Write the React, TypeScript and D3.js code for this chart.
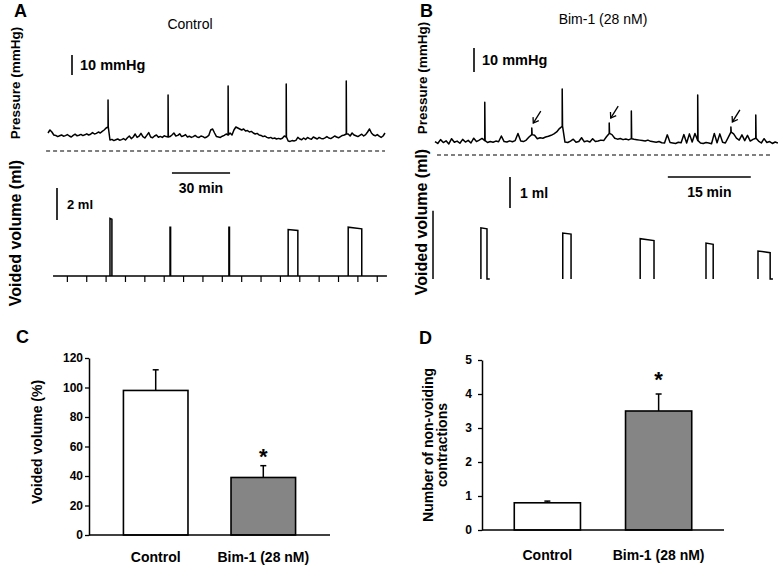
import React, { useEffect, useRef } from 'react';
import * as d3 from 'd3';

const FONT = "'Liberation Sans', Arial, Helvetica, sans-serif";

// Panel A (control): bladder pressure, mmHg, one sample per minute
const pressureControl: number[] = [
  9.0, 10.5, 9.5, 8.0,
  7.8, 7.2, 7.6, 8.0, 7.4, 7.7, 8.2, 7.5, 7.0, 7.8, 8.4, 7.6, 7.9, 8.3, 7.7, 8.1, 8.6, 8.0, 8.4, 9.2, 8.5, 8.8, 9.5, 9.0, 9.8,
  10.5, 11.5,
  12.0,
  5.5, 5.8, 5.2, 5.6, 6.0, 5.4, 5.7, 6.2, 5.5, 6.6, 7.5, 6.2, 7.0, 8.5, 6.8, 7.4, 8.8, 7.2, 6.5, 7.8, 9.2, 7.0, 6.6, 7.5, 8.0, 6.9, 7.3, 6.8, 7.6, 7.2,
  7.0,
  7.2, 8.0, 9.0, 7.5, 7.8, 8.6, 7.2, 7.6, 8.2, 7.0, 7.4, 6.8, 7.2, 7.8, 7.0, 6.8, 7.5, 7.2, 6.6, 7.0, 7.8, 10.5, 11.0, 9.0, 7.2, 7.0, 6.8, 7.4, 7.8, 8.5,
  8.0,
  9.0, 8.0, 10.5, 12.0, 11.5, 11.0, 10.5, 11.0, 10.0, 10.2, 9.5, 9.8, 9.0, 8.5, 8.8, 8.0, 7.8, 7.2, 7.5, 6.8, 6.5, 6.8, 6.2, 6.5, 6.0, 6.3, 6.0, 6.4, 7.5,
  7.0,
  5.0, 4.8, 5.2, 5.0, 5.3, 6.8, 6.0, 5.6, 6.5, 5.8, 6.8, 6.2, 5.9, 7.0, 6.5, 6.0, 6.8, 6.3, 6.1, 6.6, 7.2, 6.5, 6.2, 6.8, 7.5, 7.0, 6.6, 7.2, 7.8, 8.0,
  8.5,
  8.5, 7.5, 9.0, 8.0, 7.6, 7.2, 7.8, 8.4, 7.5, 8.2, 9.5, 11.0, 9.0, 8.0, 7.6, 8.2, 7.4, 6.8, 7.5, 9.0,
];
const spikesControl = [
  { i: 31, peak: 25.5 },
  { i: 62, peak: 28 },
  { i: 93, peak: 32.5 },
  { i: 123, peak: 33.5 },
  { i: 154, peak: 35 },
];
// voids: minutes and ml
const voidsControl = [
  { start: 32, end: 33, top: 3.6, topEnd: 3.55, tail: 0 },
  { start: 63, end: 63.3, top: 3.05, topEnd: 3.05, tail: 0 },
  { start: 93.4, end: 93.7, top: 3.05, topEnd: 3.05, tail: 0 },
  { start: 124, end: 129, top: 2.9, topEnd: 2.85, tail: 0 },
  { start: 155, end: 162, top: 3.05, topEnd: 2.95, tail: 0 },
];
const volumeTicksControl = [10, 20, 30, 40, 50, 60, 70, 80, 90, 100, 110, 120, 130, 140, 150, 160, 170];

// Panel B (Bim-1): bladder pressure, one sample per 0.5 min
const pressureBim: number[] = [
  5.6, 4.8, 6.4, 5.2, 5.9, 4.6, 6.8, 5.3, 5.8, 4.9, 6.5, 5.4, 6.1, 5.0, 7.0, 5.6, 6.2, 6.9,
  6.0,
  5.2, 5.6, 5.3, 5.8, 5.5, 7.9, 5.6, 5.4, 5.9, 5.5, 6.0, 9.0, 5.8, 5.6, 6.2, 7.5,
  8.5,
  8.2, 6.8, 7.2, 7.0, 7.5, 7.8, 8.2, 8.8, 9.6, 11.0,
  12.0,
  5.4, 5.2, 5.8, 6.6, 5.3, 5.6, 7.2, 5.5, 5.9, 5.4, 6.8, 5.6, 5.8, 6.2, 6.0, 7.6,
  9.0,
  8.5, 7.0, 6.6, 6.9, 6.4, 6.7, 6.3,
  6.8,
  6.6, 6.4, 6.2, 6.0, 5.8, 6.2, 5.7, 5.5, 5.3, 5.6, 5.1, 5.0, 8.4, 5.2, 5.0, 4.8, 5.3, 5.1, 8.5, 5.0, 8.8, 5.4, 9.0,
  6.0,
  5.0, 4.8, 5.2, 5.0, 4.7, 9.0, 5.1, 8.8, 5.3, 5.0, 7.2,
  9.5,
  8.8, 7.0, 6.2, 8.4, 6.0, 8.2, 5.8, 6.5,
  7.0,
  5.8, 5.0, 6.8, 5.2, 5.6, 4.8, 5.4, 5.0,
];
const spikesBim = [
  { i: 18, peak: 22 },
  { i: 35, peak: 11.2 },
  { i: 46, peak: 27.5 },
  { i: 63, peak: 13.3 },
  { i: 71, peak: 18.3 },
  { i: 95, peak: 25 },
  { i: 107, peak: 11.7 },
  { i: 116, peak: 16.7 },
];
const nonVoidingBim = [35, 63, 107];
const voidsBim = [
  { start: 8.3, end: 9.4, top: 1.65, topEnd: 1.62, tail: 0.5 },
  { start: 23.1, end: 24.6, top: 1.48, topEnd: 1.45, tail: 0 },
  { start: 37.1, end: 39.6, top: 1.3, topEnd: 1.24, tail: 0 },
  { start: 49.0, end: 50.3, top: 1.16, topEnd: 1.12, tail: 0 },
  { start: 58.4, end: 60.6, top: 0.9, topEnd: 0.85, tail: 0.5 },
];

// Panels C and D
const groups = ['Control', 'Bim-1 (28 nM)'];
const voidedPct = [98, 39];
const voidedPctSem = [14, 8];
const nonVoiding = [0.8, 3.5];
const nonVoidingSem = [0.05, 0.5];
const ticksC = [0, 20, 40, 60, 80, 100, 120];
const ticksD = [0, 1, 2, 3, 4, 5];

type Spike = { i: number; peak: number };
type Void = { start: number; end: number; top: number; topEnd: number; tail: number };

const tracePoints = (vals: number[], step: number, spikes: Spike[]) => {
  const pts: [number, number][] = [];
  vals.forEach((v, i) => {
    pts.push([i * step, v]);
    const s = spikes.find(d => d.i === i);
    if (s) {
      pts.push([i * step, s.peak]);
      pts.push([i * step + step * 0.12, v]);
    }
  });
  return pts;
};

const voidPoints = (v: Void): [number, number][] => {
  const pts: [number, number][] = [[v.start, 0], [v.start, v.top], [v.end, v.topEnd], [v.end, 0]];
  if (v.tail > 0) pts.push([v.end + v.tail, 0]);
  return pts;
};

const TracePanel = ({ side }: { side: 'A' | 'B' }) => {
  const isA = side === 'A';
  const x = isA
    ? d3.scaleLinear().domain([0, 174]).range([48, 385])
    : d3.scaleLinear().domain([0, 62]).range([435, 777.9]);
  const yP = isA
    ? d3.scaleLinear().domain([0, 10]).range([151, 131])
    : d3.scaleLinear().domain([0, 10]).range([155, 131]);
  const yV = isA
    ? d3.scaleLinear().domain([0, 2]).range([276, 244])
    : d3.scaleLinear().domain([0, 1]).range([279, 248]);
  const pts = isA
    ? tracePoints(pressureControl, 1, spikesControl)
    : tracePoints(pressureBim, 0.5, spikesBim);
  const voids = isA ? voidsControl : voidsBim;
  const pLine = d3.line<[number, number]>().x(d => x(d[0])).y(d => yP(d[1]))(pts) as string;
  const vLine = d3.line<[number, number]>().x(d => x(d[0])).y(d => yV(d[1]));
  const dashRange = isA ? [-1, 174] : [0.36, 60.6];

  const tenMmHg = yP(0) - yP(10);
  const bar = isA ? { x: 72, y: 75 } : { x: 474, y: 72 };
  const volBar = isA ? { x: 57, y: 220, ml: 2 } : { x: 510, y: 208, ml: 1 };
  const volLen = yV(0) - yV(volBar.ml);
  const timeBar = isA ? { t0: 64, min: 30, y: 173 } : { t0: 42.1, min: 15, y: 177 };

  return (
    <g>
      <text x={isA ? 14 : 420} y={17} fontSize={18} fontWeight="bold">{side}</text>
      <text x={isA ? 190 : 603} y={isA ? 29 : 24} fontSize={14} textAnchor="middle">
        {isA ? 'Control' : 'Bim-1 (28 nM)'}
      </text>
      <text transform={`translate(${isA ? 20 : 427},${isA ? 83 : 78}) rotate(-90)`} fontSize={13.5}
        fontWeight="bold" textAnchor="middle">Pressure (mmHg)</text>
      <text transform={`translate(${isA ? 21 : 427},${isA ? 233 : 222}) rotate(-90)`} fontSize={16}
        fontWeight="bold" textAnchor="middle">Voided volume (ml)</text>

      {/* 10 mmHg scale bar */}
      <line x1={bar.x} x2={bar.x} y1={bar.y} y2={bar.y - tenMmHg} stroke="#000" strokeWidth={1.6} />
      <text x={bar.x + 8} y={bar.y - tenMmHg / 2 + 5} fontSize={14.5} fontWeight="bold">10 mmHg</text>

      {/* pressure trace and zero line */}
      <path d={pLine} fill="none" stroke="#000" strokeWidth={1.5} strokeLinejoin="round" />
      <line x1={x(dashRange[0])} x2={x(dashRange[1])} y1={yP(0)} y2={yP(0)} stroke="#000"
        strokeWidth={1.2} strokeDasharray="4,3" />

      {/* time scale bar */}
      <line x1={x(timeBar.t0)} x2={x(timeBar.t0 + timeBar.min)} y1={timeBar.y} y2={timeBar.y}
        stroke="#000" strokeWidth={1.5} />
      <text x={(x(timeBar.t0) + x(timeBar.t0 + timeBar.min)) / 2} y={timeBar.y + 20} fontSize={14}
        fontWeight="bold" textAnchor="middle">{timeBar.min} min</text>

      {/* volume scale bar */}
      <line x1={volBar.x} x2={volBar.x} y1={volBar.y} y2={volBar.y - volLen} stroke="#000" strokeWidth={1.6} />
      <text x={volBar.x + 10} y={volBar.y - volLen / 2 + 5} fontSize={isA ? 13 : 14}
        fontWeight="bold">{volBar.ml} ml</text>

      {/* volume baseline */}
      {isA ? (
        <g>
          <line x1={x(2.6)} x2={x(175)} y1={yV(0)} y2={yV(0)} stroke="#000" strokeWidth={1.5} />
          {volumeTicksControl.map(t => (
            <line key={t} x1={x(t)} x2={x(t)} y1={yV(0)} y2={yV(0) + 6} stroke="#000" strokeWidth={1.2} />
          ))}
        </g>
      ) : (
        <line x1={x(-0.36)} x2={x(-0.36)} y1={yV(0)} y2={yV(2.2)} stroke="#000" strokeWidth={1.5} />
      )}
      {voids.map((v, i) => (
        <path key={i} d={vLine(voidPoints(v)) as string} fill="none" stroke="#000" strokeWidth={1.5} />
      ))}

      {/* arrows at non-voiding contractions */}
      {!isA && nonVoidingBim.map(idx => {
        const s = spikesBim.find(d => d.i === idx)!;
        const px = x(idx * 0.5);
        const py = yP(s.peak);
        const hx = px + 1.5, hy = py - 5;
        const tx = px + 9, ty = py - 17;
        const len = Math.hypot(tx - hx, ty - hy);
        const ux = (tx - hx) / len, uy = (ty - hy) / len;
        const wing = (a: number) => {
          const c = Math.cos(a), sn = Math.sin(a);
          return [hx + 6 * (ux * c - uy * sn), hy + 6 * (ux * sn + uy * c)];
        };
        const w1 = wing(0.6), w2 = wing(-0.6);
        return (
          <g key={idx} stroke="#000" strokeWidth={1.3} fill="none">
            <line x1={tx} y1={ty} x2={hx} y2={hy} />
            <polyline points={`${w1[0]},${w1[1]} ${hx},${hy} ${w2[0]},${w2[1]}`} />
          </g>
        );
      })}
    </g>
  );
};

interface BarProps {
  letter: string;
  values: number[];
  sems: number[];
  ticks: number[];
  xRange: [number, number];
  yRange: [number, number];
  padInner: number;
  padOuter: number;
  tickPad: number;
  starGap: number;
  labelY: number;
  letterPos: [number, number];
  yLabel: string[];
  yLabelX: number[];
  yLabelY: number;
}

const BarPanel = (p: BarProps) => {
  const axisRef = useRef<SVGGElement>(null);
  const x = d3.scaleBand<string>().domain(groups).range(p.xRange)
    .paddingInner(p.padInner).paddingOuter(p.padOuter);
  const y = d3.scaleLinear().domain([0, p.ticks[p.ticks.length - 1]]).range(p.yRange);

  useEffect(() => {
    const g = d3.select(axisRef.current as SVGGElement);
    g.selectAll('*').remove();
    g.attr('transform', `translate(${p.xRange[0]},0)`)
      .call(d3.axisLeft(y).tickValues(p.ticks).tickFormat(d3.format('d'))
        .tickSize(4).tickSizeOuter(0).tickPadding(p.tickPad));
    g.select('.domain').attr('stroke-width', 1.5);
    g.selectAll('.tick line').attr('stroke-width', 1.3);
    g.selectAll('.tick text').attr('font-size', 12).attr('font-weight', 'bold')
      .attr('font-family', FONT).attr('fill', '#000');
  }, [p]);

  return (
    <g>
      <text x={p.letterPos[0]} y={p.letterPos[1]} fontSize={18} fontWeight="bold">{p.letter}</text>
      {p.yLabel.map((s, i) => (
        <text key={i} transform={`translate(${p.yLabelX[i]},${p.yLabelY}) rotate(-90)`} fontSize={14}
          fontWeight="bold" textAnchor="middle">{s}</text>
      ))}
      {groups.map((gname, i) => {
        const bx = x(gname) as number;
        const cx = bx + x.bandwidth() / 2;
        const top = p.values[i] + p.sems[i];
        return (
          <g key={gname}>
            <line x1={cx} x2={cx} y1={y(p.values[i])} y2={y(top)} stroke="#000" strokeWidth={1.5} />
            <line x1={cx - 3} x2={cx + 3} y1={y(top)} y2={y(top)} stroke="#000" strokeWidth={1.5} />
            <rect x={bx} y={y(p.values[i])} width={x.bandwidth()} height={y(0) - y(p.values[i])}
              fill={i === 0 ? '#ffffff' : '#858585'} stroke="#000" strokeWidth={1.6} />
            {i === 1 && (
              <text x={cx} y={y(top) - p.starGap} fontSize={22} fontWeight="bold" textAnchor="middle">*</text>
            )}
            <text x={cx} y={p.labelY} fontSize={14} fontWeight="bold" textAnchor="middle">{gname}</text>
          </g>
        );
      })}
      <line x1={p.xRange[0]} x2={p.xRange[1]} y1={y(0)} y2={y(0)} stroke="#000" strokeWidth={1.5} />
      <g ref={axisRef} />
    </g>
  );
};

const App = () => (
  <svg width={778} height={567} style={{ position: 'absolute', left: 0, top: 0, background: '#fff' }}
    fontFamily={FONT}>
    <rect width={778} height={567} fill="#fff" />
    <TracePanel side="A" />
    <TracePanel side="B" />
    <BarPanel letter="C" values={voidedPct} sems={voidedPctSem} ticks={ticksC} xRange={[89, 330]}
      yRange={[535, 358]} padInner={0.4} padOuter={0.32} tickPad={2} starGap={2} labelY={562}
      letterPos={[16, 343]} yLabel={['Voided volume (%)']} yLabelX={[42]} yLabelY={442} />
    <BarPanel letter="D" values={nonVoiding} sems={nonVoidingSem} ticks={ticksD} xRange={[482, 724]}
      yRange={[530, 360]} padInner={0.405} padOuter={0.29} tickPad={6} starGap={7} labelY={560}
      letterPos={[419, 344]} yLabel={['Number of non-voiding', 'contractions']} yLabelX={[433, 447]}
      yLabelY={445} />
  </svg>
);

export default App;
